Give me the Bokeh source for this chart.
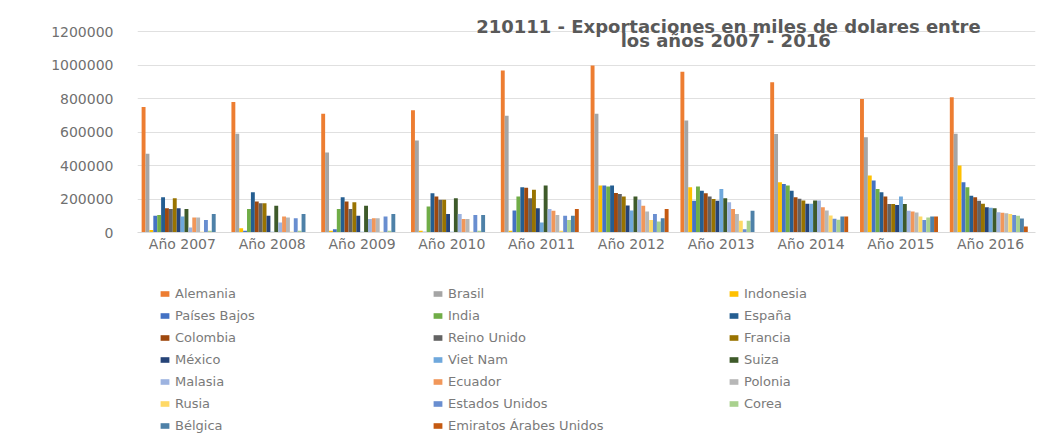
from bokeh.plotting import figure
from bokeh.layouts import column
from bokeh.models import (FactorRange, Range1d, Legend, LegendItem, FixedTicker,
                          NumeralTickFormatter, Label, ColumnDataSource)
from bokeh.transform import dodge
from bokeh.embed import file_html
from bokeh.resources import INLINE

years = ["Año 2007", "Año 2008", "Año 2009", "Año 2010", "Año 2011",
         "Año 2012", "Año 2013", "Año 2014", "Año 2015", "Año 2016"]

countries = ["Alemania", "Brasil", "Indonesia", "Países Bajos", "India", "España",
             "Colombia", "Reino Unido", "Francia", "México", "Viet Nam", "Suiza",
             "Malasia", "Ecuador", "Polonia", "Rusia", "Estados Unidos", "Corea",
             "Bélgica", "Emiratos Árabes Unidos"]

alemania = [750000, 780000, 710000, 730000, 967000, 997000, 960000, 897000, 798000, 808000]
brasil = [470000, 590000, 478000, 549000, 698000, 709000, 669000, 589000, 569000, 590000]
indonesia = [15000, 25000, 10000, 10000, 10000, 280000, 270000, 300000, 340000, 400000]
paises_bajos = [100000, 10000, 20000, 5000, 131000, 280000, 190000, 290000, 310000, 300000]
india = [105000, 140000, 140000, 155000, 215000, 275000, 275000, 280000, 260000, 270000]
espana = [210000, 240000, 210000, 235000, 270000, 280000, 250000, 250000, 240000, 220000]
colombia = [145000, 185000, 185000, 215000, 268000, 236000, 235000, 211000, 215000, 210000]
reino_unido = [140000, 175000, 140000, 195000, 205000, 230000, 215000, 201000, 170000, 190000]
francia = [205000, 175000, 180000, 195000, 255000, 215000, 200000, 191000, 170000, 172000]
mexico = [145000, 100000, 100000, 110000, 145000, 161000, 190000, 171000, 165000, 151000]
viet_nam = [95000, 5000, 5000, 5000, 60000, 131000, 260000, 171000, 215000, 148000]
suiza = [140000, 160000, 160000, 205000, 280000, 215000, 205000, 191000, 170000, 145000]
malasia = [30000, 60000, 80000, 110000, 140000, 195000, 180000, 191000, 130000, 121000]
ecuador = [90000, 95000, 85000, 80000, 130000, 160000, 140000, 151000, 125000, 118000]
polonia = [90000, 90000, 85000, 80000, 105000, 125000, 110000, 131000, 120000, 115000]
rusia = [5000, 5000, 5000, 5000, 10000, 75000, 70000, 101000, 95000, 110000]
estados_unidos = [75000, 85000, 95000, 105000, 100000, 110000, 20000, 82000, 75000, 105000]
corea = [10000, 10000, 10000, 10000, 75000, 65000, 70000, 76000, 90000, 100000]
belgica = [110000, 110000, 110000, 105000, 100000, 85000, 130000, 95000, 95000, 83000]
emiratos = [0, 0, 0, 0, 140000, 140000, 0, 95000, 95000, 36000]

series = [alemania, brasil, indonesia, paises_bajos, india, espana, colombia,
          reino_unido, francia, mexico, viet_nam, suiza, malasia, ecuador,
          polonia, rusia, estados_unidos, corea, belgica, emiratos]

colors = ["#ED7D31", "#A5A5A5", "#FFC000", "#4472C4", "#70AD47", "#255E91",
          "#9E480E", "#636363", "#997300", "#264478", "#6FA8DC", "#3E5A2A",
          "#9DB3E0", "#F1975A", "#B7B7B7", "#FFD966", "#698ED0", "#A9D18E",
          "#4E81A8", "#C55A11"]

y_ticks = [0, 200000, 400000, 600000, 800000, 1000000, 1200000]

data = {"year": years}
for i, s in enumerate(series):
    data[f"s{i}"] = s
src = ColumnDataSource(data)

W = 1048
p = figure(x_range=FactorRange(factors=years, range_padding=0),
           y_range=Range1d(0, 1320000),
           width=W, height=262, output_backend="svg", toolbar_location=None,
           min_border_left=137, min_border_right=13, min_border_top=11,
           min_border_bottom=30)
p.outline_line_color = None
p.background_fill_color = "white"
p.border_fill_color = "white"

n = len(series)
bw = 0.0434
for i in range(n):
    p.vbar(x=dodge("year", (i - (n - 1) / 2) * bw - 0.02, range=p.x_range),
           top=f"s{i}", width=bw, source=src,
           fill_color=colors[i], line_color=None)

# axes
p.yaxis.ticker = FixedTicker(ticks=y_ticks)
p.yaxis.formatter = NumeralTickFormatter(format="0")
p.yaxis.axis_line_color = None
p.yaxis.major_tick_line_color = None
p.yaxis.minor_tick_line_color = None
p.yaxis.major_tick_out = 0
p.yaxis.major_tick_in = 0
p.yaxis.major_label_standoff = 24
p.yaxis.major_label_text_font = "DejaVu Sans"
p.yaxis.major_label_text_font_size = "14px"
p.yaxis.major_label_text_color = "#707070"

p.xaxis.axis_line_color = "#D9D9D9"
p.xaxis.major_tick_line_color = None
p.xaxis.minor_tick_line_color = None
p.xaxis.major_tick_out = 0
p.xaxis.major_tick_in = 0
p.xaxis.major_label_standoff = 3
p.xaxis.major_label_text_font = "DejaVu Sans"
p.xaxis.major_label_text_font_size = "14px"
p.xaxis.major_label_text_color = "#707070"

p.xgrid.grid_line_color = None
p.ygrid.grid_line_color = "#E0E0E0"
p.ygrid.ticker = FixedTicker(ticks=y_ticks)

# title
t1 = Label(x=6.58, y=1231000, x_units="data", y_units="data",
           text="210111 - Exportaciones en miles de dolares entre",
           text_align="center", text_baseline="middle",
           text_font="DejaVu Sans", text_font_style="bold",
           text_font_size="18px", text_color="#595959")
t2 = Label(x=6.55, y=1146000, x_units="data", y_units="data",
           text="los años 2007 - 2016",
           text_align="center", text_baseline="middle",
           text_font="DejaVu Sans", text_font_style="bold",
           text_font_size="18px", text_color="#595959")
p.add_layout(t1)
p.add_layout(t2)

# legend strip below the chart (three columns)
lg = figure(x_range=Range1d(0, 1), y_range=Range1d(0, 1),
            width=W, height=178, output_backend="svg", toolbar_location=None,
            min_border=0)
lg.axis.visible = False
lg.grid.visible = False
lg.outline_line_color = None
lg.border_fill_color = "white"
dummy = ColumnDataSource(dict(x=[0.5], top=[0.0]))
items = []
for i, c in enumerate(countries):
    r = lg.vbar(x="x", top="top", width=0.0, source=dummy,
                fill_color=colors[i], line_color=None)
    items.append(LegendItem(label=c, renderers=[r]))

col_x = [22, 295, 591]
for k in range(3):
    col_items = items[k::3]
    h = len(col_items) * 18 + (len(col_items) - 1) * 4
    leg = Legend(items=col_items, location=(col_x[k], 156 - h),
                 orientation="vertical",
                 padding=0, margin=0, spacing=4,
                 glyph_width=11, glyph_height=7, label_standoff=5,
                 label_height=18,
                 label_text_font="DejaVu Sans", label_text_font_size="13px",
                 label_text_color="#7A7A7A",
                 border_line_color=None, background_fill_alpha=0)
    lg.add_layout(leg)

layout = column(p, lg, spacing=0)
open("out.html", "w").write(file_html(layout, INLINE))
